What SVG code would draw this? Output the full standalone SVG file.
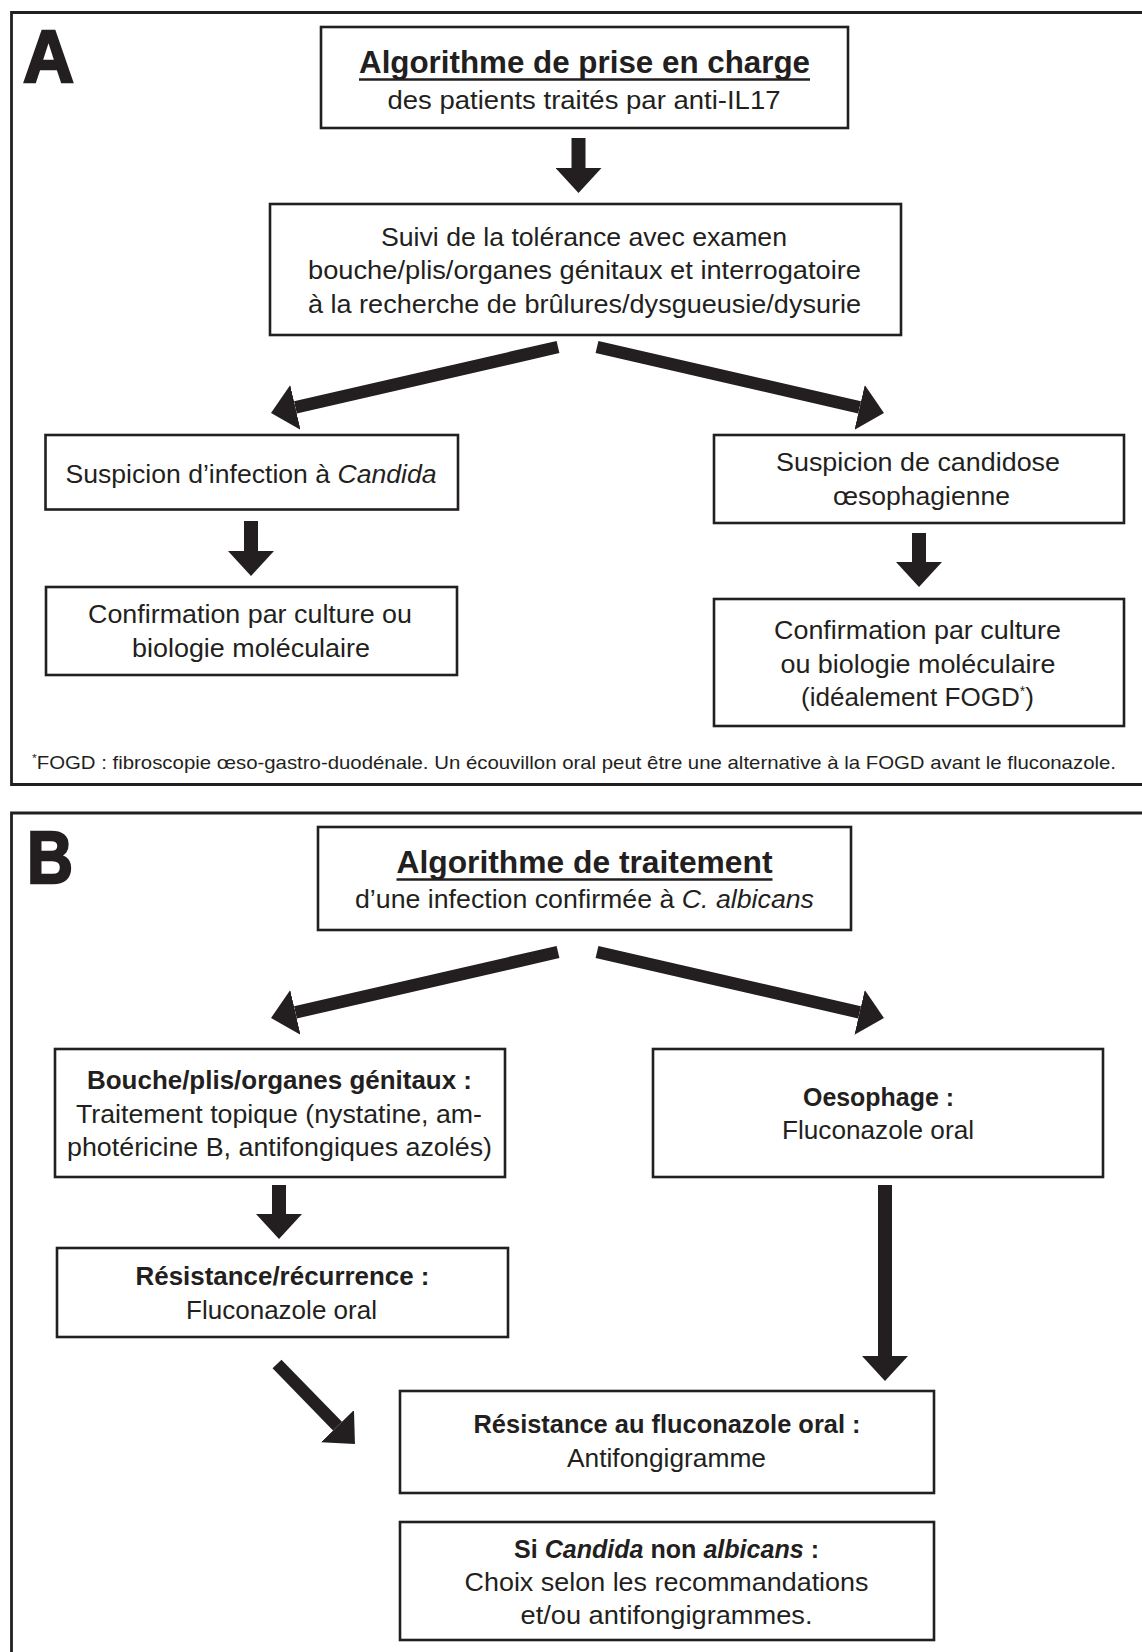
<svg xmlns="http://www.w3.org/2000/svg" width="1142" height="1652" viewBox="0 0 1142 1652">
<defs>
<style>
.frame{fill:none;stroke:#231f20;stroke-width:2.8}
.box{fill:#fff;stroke:#231f20;stroke-width:2.6}
text{font-family:"Liberation Sans",Arial,sans-serif;fill:#231f20}
.t{font-size:26px;text-anchor:middle}
.b{font-weight:bold}
.title{font-size:31.5px;font-weight:bold;text-anchor:middle}
.letter{font-size:74px;font-weight:bold;stroke:#231f20;stroke-width:2.5}
.fn{font-size:18.5px}
.sh{fill:none;stroke:#231f20;stroke-linecap:butt}
.v{stroke-width:14}
.d{stroke-width:12.5}
.ul{stroke:#231f20;stroke-width:2.4}
</style>
<marker id="ah" viewBox="0 0 25 46" refX="0" refY="23" markerWidth="25" markerHeight="46" markerUnits="userSpaceOnUse" orient="auto">
<path d="M0,0 L25,23 L0,46 Z" fill="#231f20"/>
</marker>
</defs>
<rect width="1142" height="1652" fill="#fff"/>

<g id="panel-A">
<path class="frame" d="M1142,12.5 H11.5 V784.5 H1142"/>
<text class="letter" x="23" y="82" textLength="51" lengthAdjust="spacingAndGlyphs">A</text>
<text class="fn" x="32" y="769" textLength="1084" lengthAdjust="spacingAndGlyphs"><tspan font-size="11" dy="-7">*</tspan><tspan dy="7">FOGD : fibroscopie œso-gastro-duodénale. Un écouvillon oral peut être une alternative à la FOGD avant le fluconazole.</tspan></text>
</g>

<g id="panel-B">
<path class="frame" d="M1142,813 H11.5 V1652"/>
<text class="letter" x="27" y="883" textLength="46" lengthAdjust="spacingAndGlyphs">B</text>
</g>

<g id="connectors">
<line class="sh v" x1="578.5" y1="138" x2="578.5" y2="168" marker-end="url(#ah)"/>
<line class="sh d" x1="558" y1="347" x2="295.4" y2="407.4" marker-end="url(#ah)"/>
<line class="sh d" x1="597" y1="347" x2="859.6" y2="407.4" marker-end="url(#ah)"/>
<line class="sh v" x1="251" y1="521" x2="251" y2="551" marker-end="url(#ah)"/>
<line class="sh v" x1="919" y1="533" x2="919" y2="562" marker-end="url(#ah)"/>
<line class="sh d" x1="558" y1="952" x2="295.4" y2="1012.4" marker-end="url(#ah)"/>
<line class="sh d" x1="597" y1="952" x2="859.6" y2="1012.4" marker-end="url(#ah)"/>
<line class="sh v" x1="279" y1="1185" x2="279" y2="1214" marker-end="url(#ah)"/>
<line class="sh v" x1="885" y1="1185" x2="885" y2="1356" marker-end="url(#ah)"/>
<line class="sh d" x1="277" y1="1364" x2="337.5" y2="1426.1" marker-end="url(#ah)"/>
</g>

<g id="a-title">
<rect class="box" x="321" y="27" width="527" height="101"/>
<text class="title" x="584.5" y="73" textLength="451" lengthAdjust="spacingAndGlyphs">Algorithme de prise en charge</text>
<line class="ul" x1="359" y1="79.5" x2="810" y2="79.5"/>
<text class="t" x="584" y="109" textLength="393" lengthAdjust="spacingAndGlyphs">des patients traités par anti-IL17</text>
</g>

<g id="a-suivi">
<rect class="box" x="270" y="204" width="631" height="131"/>
<text class="t" x="584" y="246" textLength="406" lengthAdjust="spacingAndGlyphs">Suivi de la tolérance avec examen</text>
<text class="t" x="584.5" y="279" textLength="553" lengthAdjust="spacingAndGlyphs">bouche/plis/organes génitaux et interrogatoire</text>
<text class="t" x="584.5" y="313" textLength="553" lengthAdjust="spacingAndGlyphs">à la recherche de brûlures/dysgueusie/dysurie</text>
</g>

<g id="a-suspicion-candida">
<rect class="box" x="45.5" y="435" width="412.5" height="74.5"/>
<text class="t" x="251" y="483" textLength="371" lengthAdjust="spacingAndGlyphs">Suspicion d’infection à <tspan font-style="italic">Candida</tspan></text>
</g>

<g id="a-suspicion-oeso">
<rect class="box" x="714" y="435" width="410" height="88"/>
<text class="t" x="918" y="471" textLength="284" lengthAdjust="spacingAndGlyphs">Suspicion de candidose</text>
<text class="t" x="921.5" y="505" textLength="177" lengthAdjust="spacingAndGlyphs">œsophagienne</text>
</g>

<g id="a-confirmation-left">
<rect class="box" x="46" y="587" width="411" height="88"/>
<text class="t" x="250" y="623" textLength="324" lengthAdjust="spacingAndGlyphs">Confirmation par culture ou</text>
<text class="t" x="251" y="657" textLength="238" lengthAdjust="spacingAndGlyphs">biologie moléculaire</text>
</g>

<g id="a-confirmation-right">
<rect class="box" x="714" y="599" width="410" height="127"/>
<text class="t" x="917.5" y="639" textLength="287" lengthAdjust="spacingAndGlyphs">Confirmation par culture</text>
<text class="t" x="918" y="673" textLength="275" lengthAdjust="spacingAndGlyphs">ou biologie moléculaire</text>
<text class="t" x="917.5" y="706" textLength="233" lengthAdjust="spacingAndGlyphs">(idéalement FOGD<tspan font-size="14" dy="-10">*</tspan><tspan dy="10">)</tspan></text>
</g>

<g id="b-title">
<rect class="box" x="318" y="827" width="533" height="103"/>
<text class="title" x="584.5" y="873" textLength="376" lengthAdjust="spacingAndGlyphs">Algorithme de traitement</text>
<line class="ul" x1="396.5" y1="879.5" x2="772.5" y2="879.5"/>
<text class="t" x="584.5" y="908" textLength="459" lengthAdjust="spacingAndGlyphs">d’une infection confirmée à <tspan font-style="italic">C. albicans</tspan></text>
</g>

<g id="b-bouche">
<rect class="box" x="55" y="1049" width="450" height="128"/>
<text class="t b" x="279.5" y="1089" textLength="385" lengthAdjust="spacingAndGlyphs">Bouche/plis/organes génitaux :</text>
<text class="t" x="279" y="1123" textLength="406" lengthAdjust="spacingAndGlyphs">Traitement topique (nystatine, am-</text>
<text class="t" x="279.5" y="1156" textLength="425" lengthAdjust="spacingAndGlyphs">photéricine B, antifongiques azolés)</text>
</g>

<g id="b-oesophage">
<rect class="box" x="653" y="1049" width="450" height="128"/>
<text class="t b" x="878.5" y="1106" textLength="151" lengthAdjust="spacingAndGlyphs">Oesophage :</text>
<text class="t" x="878" y="1139" textLength="192" lengthAdjust="spacingAndGlyphs">Fluconazole oral</text>
</g>

<g id="b-resistance-recurrence">
<rect class="box" x="57" y="1248" width="451" height="89"/>
<text class="t b" x="282.5" y="1285" textLength="294" lengthAdjust="spacingAndGlyphs">Résistance/récurrence :</text>
<text class="t" x="281.5" y="1319" textLength="191" lengthAdjust="spacingAndGlyphs">Fluconazole oral</text>
</g>

<g id="b-resistance-fluconazole">
<rect class="box" x="400" y="1391" width="534" height="102"/>
<text class="t b" x="667" y="1433" textLength="387" lengthAdjust="spacingAndGlyphs">Résistance au fluconazole oral :</text>
<text class="t" x="666.5" y="1467" textLength="199" lengthAdjust="spacingAndGlyphs">Antifongigramme</text>
</g>

<g id="b-non-albicans">
<rect class="box" x="400" y="1522" width="534" height="118"/>
<text class="t b" x="666.5" y="1558" textLength="305" lengthAdjust="spacingAndGlyphs">Si <tspan font-style="italic">Candida</tspan> non <tspan font-style="italic">albicans</tspan> :</text>
<text class="t" x="666.5" y="1591" textLength="404" lengthAdjust="spacingAndGlyphs">Choix selon les recommandations</text>
<text class="t" x="666.5" y="1624" textLength="292" lengthAdjust="spacingAndGlyphs">et/ou antifongigrammes.</text>
</g>
</svg>
